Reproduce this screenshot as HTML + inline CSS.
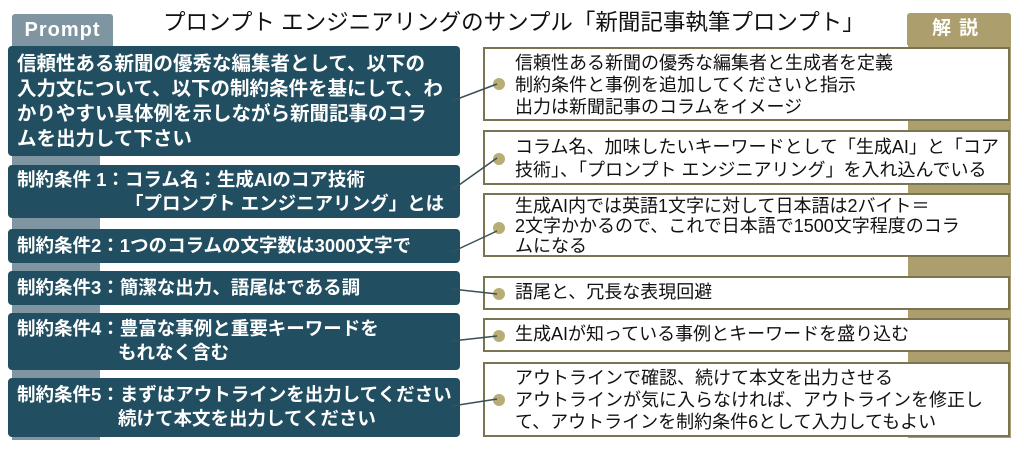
<!DOCTYPE html>
<html><head><meta charset="utf-8"><style>
body{margin:0;width:1024px;height:451px;background:#fff;position:relative;overflow:hidden;font-family:"Liberation Sans","Noto Sans CJK JP",sans-serif}
.a{position:absolute}
.lb{position:absolute;left:8px;width:452px;background:#214e60;border-radius:4px;color:#fff;font-size:18.5px;font-weight:bold;line-height:24px;box-sizing:border-box;padding-left:9px}
.rb{position:absolute;left:483px;width:527px;background:#fff;border:2px solid #7b7452;color:#111;font-size:18px;line-height:21px;box-sizing:border-box;padding-left:30px;white-space:nowrap}
.rb i{position:absolute;left:8px;width:12px;height:12px;border-radius:50%;background:#b9ac74}
</style></head><body>
<div class="a" style="left:12px;top:14px;width:101px;height:32px;background:#7f95a2;border-radius:3px 3px 0 0"></div>
<div class="a" style="left:12px;top:40px;width:88px;height:400px;background:#7f95a2"></div>
<div class="a" style="left:12px;top:14px;width:101px;height:32px;color:#fff;font-weight:bold;font-size:20px;line-height:32px;text-align:center;letter-spacing:1px">Prompt</div>
<div class="a" style="left:907px;top:13px;width:104px;height:32px;background:#ad9f6d;border-radius:3px 3px 0 0;color:#fff;font-weight:bold;font-size:19px;line-height:32px;text-align:center;letter-spacing:8px">解説</div>
<div class="a" style="left:908px;top:40px;width:103px;height:398px;background:#ad9f6d"></div>
<div class="a" style="left:163px;top:8px;font-size:22.5px;line-height:30px;color:#111;white-space:nowrap">プロンプト エンジニアリングのサンプル「新聞記事執筆プロンプト」</div>

<div class="lb" style="top:46px;height:110px;padding-top:6px;font-size:19.5px;line-height:25px">信頼性ある新聞の優秀な編集者として、以下の<br>入力文について、以下の制約条件を基にして、わ<br>かりやすい具体例を示しながら新聞記事のコラ<br>ムを出力して下さい</div>
<div class="lb" style="top:165px;height:53px;padding-top:3px">制約条件 1：コラム名：生成AIのコア技術<br><span style="padding-left:108px">「プロンプト エンジニアリング」とは</span></div>
<div class="lb" style="top:229px;height:34px;padding-top:5px">制約条件2：1つのコラムの文字数は3000文字で</div>
<div class="lb" style="top:271px;height:34px;padding-top:5px">制約条件3：簡潔な出力、語尾はである調</div>
<div class="lb" style="top:313px;height:57px;padding-top:4px">制約条件4：豊富な事例と重要キーワードを<br><span style="padding-left:101px">もれなく含む</span></div>
<div class="lb" style="top:378px;height:59px;padding-top:5px">制約条件5：まずはアウトラインを出力してください<br><span style="padding-left:101px">続けて本文を出力してください</span></div>

<div class="rb" style="top:47px;height:74px;padding-top:3px;line-height:22px"><i style="top:29px"></i>信頼性ある新聞の優秀な編集者と生成者を定義<br>制約条件と事例を追加してくださいと指示<br>出力は新聞記事のコラムをイメージ</div>
<div class="rb" style="top:130px;height:55px;padding-top:4px;line-height:23px"><i style="top:21px"></i>コラム名、加味したいキーワードとして「生成AI」と「コア<br>技術」、「プロンプト エンジニアリング」を入れ込んでいる</div>
<div class="rb" style="top:193px;height:64px;padding-top:1px;line-height:20px"><i style="top:27px"></i>生成AI内では英語1文字に対して日本語は2バイト＝<br>2文字かかるので、これで日本語で1500文字程度のコラ<br>ムになる</div>
<div class="rb" style="top:276px;height:34px;padding-top:4px"><i style="top:10px"></i>語尾と、冗長な表現回避</div>
<div class="rb" style="top:318px;height:34px;padding-top:4px"><i style="top:10px"></i>生成AIが知っている事例とキーワードを盛り込む</div>
<div class="rb" style="top:362px;height:75px;padding-top:3px;line-height:22px"><i style="top:30px"></i>アウトラインで確認、続けて本文を出力させる<br>アウトラインが気に入らなければ、アウトラインを修正し<br>て、アウトラインを制約条件6として入力してもよい</div>

<svg class="a" style="left:0;top:0" width="1024" height="451"><g stroke="#3a4f58" stroke-width="1.5">
<line x1="452" y1="101" x2="497" y2="84"/>
<line x1="452" y1="190" x2="497" y2="158"/>
<line x1="452" y1="252" x2="497" y2="231"/>
<line x1="452" y1="289" x2="497" y2="294"/>
<line x1="452" y1="341" x2="497" y2="336"/>
<line x1="452" y1="406" x2="497" y2="399"/>
</g></svg>
</body></html>
